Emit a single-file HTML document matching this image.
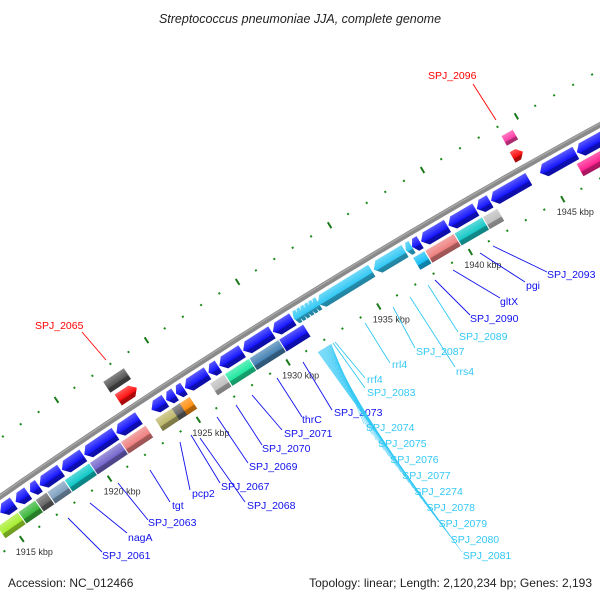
<!DOCTYPE html>
<html><head><meta charset="utf-8"><style>
html,body{margin:0;padding:0;background:#fff;}
svg{display:block;}
text{font-family:"Liberation Sans","DejaVu Sans",sans-serif;}
</style></head><body>
<svg id="s" width="600" height="600" viewBox="0 0 600 600" xmlns="http://www.w3.org/2000/svg">
<defs id="defs"></defs>
<g id="ticks"></g>
<g id="bb"></g>
<g id="genes"></g>
<g id="lab" font-size="10.5"></g>
<text x="300" y="23" text-anchor="middle" font-size="12.5" font-style="italic" fill="#222">Streptococcus pneumoniae JJA, complete genome</text>
<text x="8" y="587" font-size="12" fill="#222">Accession: NC_012466</text>
<text x="592" y="587" font-size="12" fill="#222" text-anchor="end">Topology: linear; Length: 2,120,234 bp; Genes: 2,193</text>
</svg>
<script>
var NS="http://www.w3.org/2000/svg";
var R=6500, cx=3720.5, cy=5826.8, th0=Math.atan2(-0.851,-0.525);
function P(s,v){var t=th0+s/R, r=R-v;return [cx+r*Math.cos(t), cy+r*Math.sin(t), t*180/Math.PI+90];}
function el(tag,at,par){var e=document.createElementNS(NS,tag);for(var k in at)e.setAttribute(k,at[k]);if(par)par.appendChild(e);return e;}
var defs=document.getElementById('defs'),G=document.getElementById('genes'),T=document.getElementById('ticks'),B=document.getElementById('bb'),L=document.getElementById('lab');
function sh(hex,f){var n=parseInt(hex.slice(1),16),r=n>>16,g=(n>>8)&255,b=n&255;
 if(f>0){r=r+(255-r)*f;g=g+(255-g)*f;b=b+(255-b)*f;}else{r*=1+f;g*=1+f;b*=1+f;}
 return 'rgb('+Math.round(r)+','+Math.round(g)+','+Math.round(b)+')';}
var gid=0;
function grad(c){var id='g'+(gid++);var lg=el('linearGradient',{id:id,x1:0,y1:0,x2:0,y2:1},defs);
 el('stop',{offset:0,'stop-color':sh(c,0.3)},lg);el('stop',{offset:0.62,'stop-color':c},lg);
 el('stop',{offset:0.66,'stop-color':sh(c,-0.3)},lg);el('stop',{offset:1,'stop-color':sh(c,-0.35)},lg);return 'url(#'+id+')';}
var pts=[];for(var s=-460;s<=460;s+=10){var p=P(s,0);pts.push(p[0].toFixed(1)+','+p[1].toFixed(1));}
el('polyline',{points:pts.join(' '),fill:'none',stroke:'#8a8a8a','stroke-width':5.5},B);
pts=[];for(var s=-460;s<=460;s+=10){var p=P(s,-1.3);pts.push(p[0].toFixed(1)+','+p[1].toFixed(1));}
el('polyline',{points:pts.join(' '),fill:'none',stroke:'#aaa','stroke-width':1.2},B);
var s1930=-52.5, per=107.3/5;
for(var k=-22;k<=22;k++){var s=s1930+k*per;var maj=((k%5)+5)%5==0;
 [-48,47].forEach(function(v){var p=P(s,v);
  var g=el('g',{transform:'translate('+p[0].toFixed(1)+','+p[1].toFixed(1)+') rotate('+p[2].toFixed(2)+')'},T);
  if(maj)el('rect',{x:-1,y:-3.5,width:2,height:7,fill:'#1a7a1a'},g);
  else el('rect',{x:-1,y:-1,width:2,height:2,fill:'#1a8a1a'},g);
  if(maj&&v>0){var kb=1930+k/5*5;el('text',{x:(p[0]-6).toFixed(1),y:(p[1]+16).toFixed(1),'font-size':9,fill:'#333'},L).textContent=kb+' kbp';}
 });}
function gene(x1,x2,v1,v2,c,dir){var vc=(v1+v2)/2;
 var s1=(x1-308-0.525*vc)/0.851, s2=(x2-308-0.525*vc)/0.851, Ln=s2-s1;if(Ln<2)Ln=2;
 var p=P(s1,0);var g=el('g',{transform:'translate('+p[0].toFixed(1)+','+p[1].toFixed(1)+') rotate('+p[2].toFixed(2)+')'},G);
 var a=Math.min(6,Ln*0.45),pt;
 if(dir<0)pt=[[0,vc],[a,v1],[Ln,v1],[Ln,v2],[a,v2]];
 else if(dir>0)pt=[[0,v1],[Ln-a,v1],[Ln,vc],[Ln-a,v2],[0,v2]];
 else pt=[[0,v1],[Ln,v1],[Ln,v2],[0,v2]];
 el('polygon',{points:pt.map(function(q){return q[0].toFixed(1)+','+q[1].toFixed(1)}).join(' '),fill:grad(c)},g);}
var BL='#1414ff',LB='#33c8f5';
var r1=[[-6,8],[10,23],[25,34],[35,57],[58,80],[81,113],[114,137],[150,164],[165,174],[175,183],[184,207],[208,218],[219,242],[243,272],[273,293]];
r1.forEach(function(a){gene(a[0],a[1],6,20,BL,-1);});
for(var x=294;x<318;x+=4)gene(x,x+5,6,20,LB,-1);
[[318,372],[374,405],[406,412]].forEach(function(a){gene(a[0],a[1],6,20,LB,-1);});
[[412,420],[421,447],[448,475],[476,489],[490,527],[538,573],[574,610]].forEach(function(a){gene(a[0],a[1],6,20,BL,-1);});
var r2=[[-6,15,'#a8ee30'],[16,33,'#3cb83c'],[34,45,'#666666'],[46,63,'#7fa0c0'],[64,89,'#10c8c8'],[90,121,'#7466cc'],[122,147,'#ee8080'],
[157,175,'#bdb76b'],[174,183,'#666666'],[182,192,'#ff9010'],[213,227,'#c0c0c0'],[228,252,'#20e8a0'],[253,282,'#4682b4'],[283,307,BL],
[417,428,'#18c0f8'],[429,457,'#ee8080'],[458,485,'#18c8c8'],[486,500,'#c0c0c0'],[578,610,'#ff2090']];
r2.forEach(function(a){gene(a[0],a[1],23,37,a[2],0);});
gene(117,136,-20,-7,'#ff1010',1);gene(106,127,-37,-24,'#555555',0);
gene(510,520,-20,-8,'#ff1010',1);gene(501,512,-38,-27,'#ff40a8',0);
function lab(txt,x1,y1,x2,y2,tx,ty,c){el('line',{x1:x1,y1:y1,x2:x2,y2:y2,stroke:c,'stroke-width':0.9},L);
 el('text',{x:tx,y:ty,fill:c},L).textContent=txt;}
var DB='#1010ee',RD='#ff0000';
lab('SPJ_2061',68,518,102,552,102,559,DB);
lab('nagA',90,503,127,533,128,541,DB);
lab('SPJ_2063',118,483,148,520,148,526,DB);
lab('tgt',150,470,170,502,172,509,DB);
lab('pcp2',180,442,190,490,192,497,DB);
lab('SPJ_2067',191,435,220,483,221,490,DB);
lab('SPJ_2068',200,438,245,502,247,509,DB);
lab('SPJ_2069',217,417,248,463,249,470,DB);
lab('SPJ_2070',236,405,262,445,262,452,DB);
lab('SPJ_2071',252,395,282,430,284,437,DB);
lab('thrC',277,378,302,417,302,423,DB);
lab('SPJ_2073',303,362,332,410,334,416,DB);
lab('rrl4',365,323,390,363,392,368,LB);
lab('rrf4',335,342,365,378,367,383,LB);
lab('SPJ_2083',333,343,365,388,367,396,LB);
lab('SPJ_2087',393,307,415,348,416,355,LB);
lab('rrs4',410,297,455,367,456,375,LB);
lab('SPJ_2089',428,285,458,332,459,340,LB);
lab('SPJ_2090',435,280,470,315,470,322,DB);
lab('gltX',453,270,500,298,500,305,DB);
lab('pgi',480,253,525,282,526,289,DB);
lab('SPJ_2093',493,246,547,272,547,278,DB);
lab('SPJ_2065',82,332,106,360,35,329,RD);
lab('SPJ_2096',473,84,496,120,428,79,RD);
var fl=['SPJ_2074','SPJ_2075','SPJ_2076','SPJ_2077','SPJ_2274','SPJ_2078','SPJ_2079','SPJ_2080','SPJ_2081'];
fl.forEach(function(t,i){el('text',{x:366+i*12.1,y:431+i*16,fill:LB},L).textContent=t;});
for(var j=0;j<=24;j++){var f=j/24;var sx=331-f*13,sy=344+f*8,ex=364+f*98,ey=424+f*128;
 el('line',{x1:sx,y1:sy,x2:ex,y2:ey,stroke:LB,'stroke-width':0.5},L);}
</script>
</body></html>
